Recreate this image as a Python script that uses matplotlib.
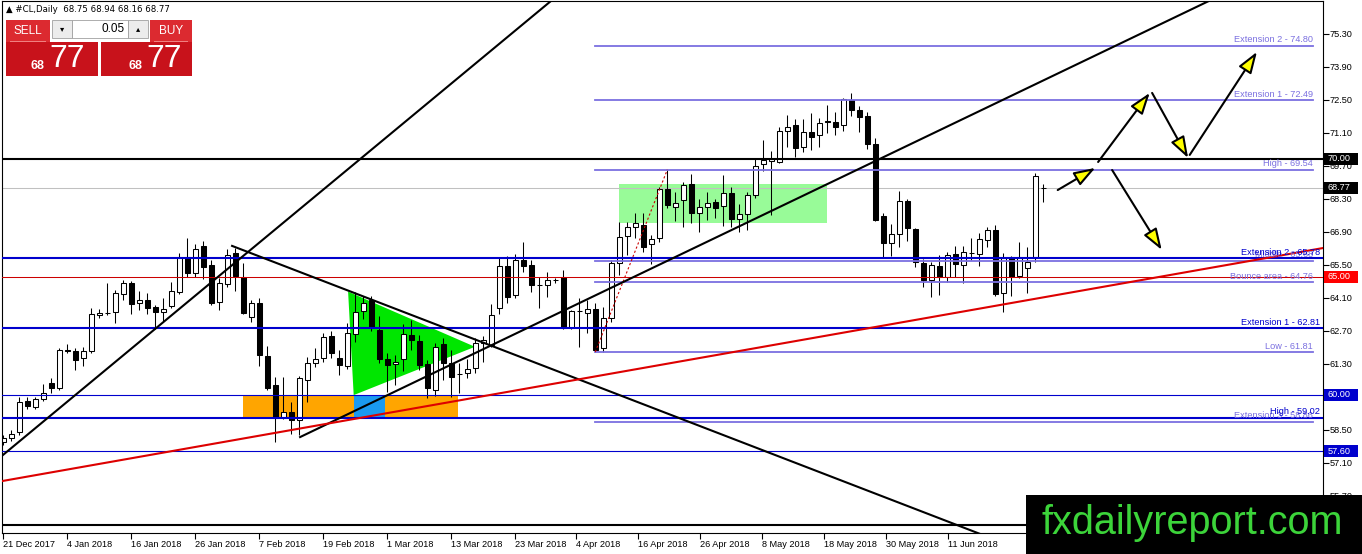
import numpy as np
import matplotlib.pyplot as plt
from matplotlib.patches import Rectangle, Polygon
from matplotlib.transforms import blended_transform_factory

plt.rcParams['font.family'] = ['Liberation Sans', 'DejaVu Sans']

W, H = 1362, 554

# #CL daily candles, bar index 0 = 21 Dec 2017
opens = [57.98, 58.16, 58.43, 59.73, 59.46, 59.81, 60.51, 60.30, 61.90, 61.85,
         61.54, 61.87, 63.37, 63.47, 63.52, 64.27, 64.75, 63.87, 64.01, 63.70,
         63.49, 63.76, 64.37, 65.83, 65.17, 66.31, 65.50, 63.94, 64.70, 66.00,
         65.00, 63.30, 63.87, 61.64, 60.41, 59.07, 59.28, 58.92, 60.62, 61.36,
         61.57, 62.49, 61.54, 61.21, 62.57, 63.56, 64.01, 62.74, 61.50, 61.28,
         61.50, 62.52, 62.28, 61.30, 60.20, 62.15, 61.36, 60.86, 60.90, 61.12,
         62.20, 62.11, 63.66, 65.46, 64.23, 65.71, 65.50, 64.65, 64.65, 64.86,
         64.98, 62.84, 63.55, 63.45, 63.63, 61.96, 63.24, 65.57, 66.71, 67.12,
         67.20, 66.38, 66.63, 68.71, 67.96, 68.26, 68.94, 67.69, 67.97, 68.16,
         68.00, 68.54, 67.44, 67.65, 68.47, 69.78, 69.92, 69.88, 71.20, 71.44,
         70.49, 71.16, 71.02, 71.60, 71.58, 71.44, 72.50, 72.08, 71.82, 70.63,
         67.58, 66.45, 66.80, 68.21, 67.01, 65.57, 64.86, 65.46, 65.00, 65.97,
         65.50, 66.02, 65.97, 66.56, 66.98, 64.33, 65.83, 65.03, 65.36, 65.85,
         68.75]
highs = [58.30, 58.50, 59.91, 59.91, 59.91, 60.45, 60.70, 61.96, 62.15, 61.96,
         62.00, 63.66, 63.62, 64.72, 64.44, 64.86, 64.80, 64.40, 64.30, 63.80,
         64.10, 64.79, 65.99, 66.63, 66.40, 66.50, 65.70, 64.95, 66.16, 66.22,
         65.60, 64.00, 64.10, 62.06, 60.76, 60.76, 59.70, 60.80, 61.60, 61.96,
         62.60, 62.70, 61.89, 63.03, 64.37, 64.20, 64.20, 63.33, 61.75, 61.70,
         63.00, 63.17, 62.53, 61.45, 62.20, 62.40, 61.90, 61.35, 61.50, 62.40,
         62.50, 63.85, 65.80, 65.90, 65.97, 66.49, 65.70, 65.00, 65.22, 64.95,
         65.30, 63.60, 64.10, 64.00, 63.90, 63.70, 65.70, 67.34, 67.34, 67.69,
         67.69, 66.77, 68.82, 69.54, 68.61, 69.03, 69.36, 68.30, 68.60, 68.30,
         69.32, 68.80, 68.10, 68.60, 69.98, 70.80, 70.35, 71.37, 71.86, 71.70,
         71.70, 71.94, 71.75, 72.29, 72.00, 72.57, 72.78, 72.25, 72.00, 70.90,
         67.70, 67.24, 68.65, 68.30, 67.05, 65.74, 65.64, 65.92, 66.06, 66.30,
         66.31, 66.63, 66.87, 67.10, 67.20, 66.00, 65.90, 66.49, 66.28, 69.39,
         68.94]
lows = [57.85, 58.05, 58.27, 59.37, 59.37, 59.75, 60.07, 60.20, 61.75, 61.04,
        61.20, 61.75, 63.24, 63.38, 63.03, 64.00, 63.40, 63.60, 63.42, 62.80,
        63.10, 63.66, 64.27, 65.00, 65.00, 64.90, 63.80, 63.60, 64.58, 64.40,
        63.40, 63.10, 61.20, 60.20, 58.00, 58.97, 58.31, 58.30, 59.70, 61.18,
        61.40, 61.56, 60.83, 61.07, 62.25, 63.20, 62.70, 61.33, 60.12, 60.40,
        61.00, 61.89, 61.04, 59.85, 59.95, 60.62, 59.90, 60.05, 60.70, 60.90,
        61.40, 62.03, 63.40, 63.90, 64.09, 65.22, 64.35, 63.66, 64.16, 64.75,
        62.80, 62.80, 62.00, 62.60, 61.81, 61.80, 63.10, 65.08, 65.92, 66.63,
        66.06, 65.54, 66.49, 67.90, 67.38, 67.10, 67.29, 66.90, 67.40, 67.50,
        67.15, 67.10, 66.90, 67.00, 68.33, 69.50, 67.62, 69.81, 70.52, 70.10,
        70.30, 70.38, 70.50, 71.10, 71.00, 71.20, 71.82, 71.16, 70.40, 67.35,
        65.78, 65.88, 66.28, 66.50, 65.43, 64.58, 64.16, 64.23, 64.79, 65.00,
        64.75, 65.71, 65.46, 66.25, 64.20, 63.52, 64.20, 64.93, 64.30, 65.64,
        68.16]
closes = [58.15, 58.33, 59.70, 59.53, 59.80, 60.05, 60.27, 61.89, 61.85, 61.47,
          61.85, 63.41, 63.45, 63.47, 64.30, 64.75, 63.84, 64.01, 63.66, 63.52,
          63.62, 64.40, 65.83, 65.17, 66.17, 65.43, 63.87, 64.72, 65.92, 65.03,
          63.45, 63.87, 61.68, 60.27, 59.00, 59.28, 58.92, 60.69, 61.35, 61.53,
          62.43, 61.75, 61.26, 62.60, 63.52, 63.90, 62.86, 61.50, 61.26, 61.39,
          62.56, 62.30, 61.26, 60.27, 62.03, 61.33, 60.76, 60.86, 61.10, 62.18,
          62.30, 63.38, 65.46, 64.16, 65.71, 65.46, 64.65, 64.65, 64.86, 64.86,
          62.84, 63.55, 63.55, 63.63, 61.89, 63.24, 65.57, 66.68, 67.10, 67.30,
          66.28, 66.59, 68.71, 68.05, 68.11, 68.90, 67.69, 67.95, 68.11, 67.93,
          68.54, 67.44, 67.65, 68.47, 69.70, 69.95, 69.98, 71.20, 71.34, 70.45,
          71.16, 70.94, 71.54, 71.55, 71.34, 72.53, 72.08, 71.79, 70.62, 67.41,
          66.45, 66.80, 68.21, 67.06, 65.64, 64.86, 65.50, 65.00, 65.92, 65.54,
          66.04, 66.02, 66.59, 66.98, 64.27, 65.78, 65.00, 65.85, 65.64, 69.28,
          68.77]

date_pos = [0, 8, 16, 24, 32, 40, 48, 56, 64, 71.6, 79.35, 87.1, 94.85, 102.6, 110.35, 118.1]
date_labels = ['21 Dec 2017', '4 Jan 2018', '16 Jan 2018', '26 Jan 2018', '7 Feb 2018',
               '19 Feb 2018', '1 Mar 2018', '13 Mar 2018', '23 Mar 2018', '4 Apr 2018',
               '16 Apr 2018', '26 Apr 2018', '8 May 2018', '18 May 2018', '30 May 2018',
               '11 Jun 2018']
price_ticks = [75.30, 73.90, 72.50, 71.10, 69.70, 68.30, 66.90, 65.50, 64.10,
               62.70, 61.30, 59.90, 58.50, 57.10, 55.70]
hidden_ticks = [59.90]  # covered by the 60.00 tag in the terminal

# horizontal levels drawn across the chart
blue_thick = [65.78, 62.81, 59.02]
blue_thick_names = ['Extension 2 - 65.78', 'Extension 1 - 62.81', 'High - 59.02']
blue_thin = [60.00, 57.60]
resistance = 70.00
support_red = 65.00
bid = 68.77
bottom_line = 54.47

# fibo levels (lavender), drawn from the swing low bar
fib_levels = [74.80, 72.49, 69.54, 65.68, 64.76, 61.81, 58.86]
fib_names = ['Extension 2 - 74.80', 'Extension 1 - 72.49', 'High - 69.54', 'Middle - 65.68',
             'Bounce area - 64.76', 'Low - 61.81', 'Extension 3 - 58.86']
fib_start, fib_end = 74, 163.7
fib_anchor = [(74, 61.81), (83, 69.54)]

# trend lines (bar, price)
left_rise = [(-0.04, 57.44), (68.1, 76.6)]
fall_line = [(28.6, 66.31), (120.8, 54.26)]
right_rise = [(37.1, 58.20), (150.2, 76.62)]
red_line = [(-0.04, 56.34), (164.96, 66.22)]

# shapes
orange_box = (30, 56.8, 59.02, 60.00)
blue_box = (43.8, 47.7, 59.02, 60.00)
green_box = (77, 103, 67.28, 68.94)
triangle = [(43.1, 64.37), (43.8, 59.98), (58.96, 62.03)]

# projection arrows
arrows = [(131.8, 68.68, 136.5, 69.62), (136.85, 69.87, 143.3, 72.80),
          (143.6, 72.80, 148.1, 70.04), (148.3, 70.17, 156.7, 74.54),
          (138.6, 69.53, 144.8, 66.14)]

BLUE = '#0000cd'
LAV = '#7b70e0'

fig = plt.figure(figsize=(W / 100, H / 100), dpi=100)
ax = fig.add_axes([2 / W, 21 / H, 1321 / W, 532 / H])
ax.set_xlim(-0.16, 164.96)
ax.set_ylim(54.13, 76.70)

# background objects
ax.add_patch(Rectangle((orange_box[0], orange_box[2]), orange_box[1] - orange_box[0],
                       orange_box[3] - orange_box[2], fc='#ffa500', ec='none', zorder=0.5))
ax.add_patch(Rectangle((blue_box[0], blue_box[2]), blue_box[1] - blue_box[0],
                       blue_box[3] - blue_box[2], fc='#1a9af0', ec='none', zorder=0.6))
ax.add_patch(Rectangle((green_box[0], green_box[2]), green_box[1] - green_box[0],
                       green_box[3] - green_box[2], fc='#98fb98', ec='none', zorder=0.5))
ax.add_patch(Polygon(triangle, closed=True, fc='#00e600', ec='none', zorder=0.5))

# candles
idx = np.arange(len(opens))
o = np.array(opens)
c = np.array(closes)
ax.vlines(idx, lows, highs, color='black', lw=0.75, zorder=2)
face = np.where(c >= o, 'white', 'black')
ax.bar(idx, np.abs(c - o), bottom=np.minimum(o, c), width=0.56, color=face,
       edgecolor='black', lw=0.75, zorder=2.1)

# horizontal lines
ax.axhline(bid, color='#c0c0c0', lw=0.75, zorder=1)
ax.axhline(support_red, color='#cc0000', lw=0.75, zorder=3)
for lv in blue_thin:
    ax.axhline(lv, color=BLUE, lw=0.8, zorder=3)
for lv in blue_thick:
    ax.axhline(lv, color=BLUE, lw=1.5, zorder=3)
ax.axhline(resistance, color='black', lw=1.5, zorder=3)
ax.axhline(bottom_line, color='black', lw=1.5, zorder=3)

# fibo
for lv, name in zip(fib_levels, fib_names):
    ax.plot([fib_start, fib_end], [lv, lv], color=LAV, lw=1.3, zorder=3)
    ax.text(fib_end, lv + 0.06, name, color=LAV, fontsize=6.6, ha='right', va='bottom',
            zorder=4)
for lv, name in zip(blue_thick, blue_thick_names):
    ax.text(164.6, lv + 0.06, name, color=BLUE, fontsize=6.6, ha='right', va='bottom',
            zorder=4)
ax.plot(*zip(*fib_anchor), color='#cc0000', lw=0.8, ls=(0, (2, 2)), zorder=3)


def ray(p0, p1, x_end=200):
    slope = (p1[1] - p0[1]) / (p1[0] - p0[0])
    return [p0[0], x_end], [p0[1], p0[1] + slope * (x_end - p0[0])]


ax.axline(left_rise[0], left_rise[1], color='black', lw=1.5, zorder=3)
ax.plot(*ray(*fall_line), color='black', lw=1.5, zorder=3)
ax.plot(*ray(*right_rise), color='black', lw=1.5, zorder=3)
ax.axline(red_line[0], red_line[1], color='#dd0000', lw=1.5, zorder=3)

for x0, y0, x1, y1 in arrows:
    ax.annotate('', xy=(x1, y1), xytext=(x0, y0),
                arrowprops=dict(arrowstyle='-|>,head_length=1.3,head_width=0.45',
                                fc='#ffff00', ec='black', lw=1.5,
                                shrinkA=0, shrinkB=0), zorder=5)

# axes styling
for s in ax.spines.values():
    s.set_linewidth(0.8)
ax.yaxis.tick_right()
ax.set_yticks(price_ticks)
ax.set_yticklabels(['' if p in hidden_ticks else f'{p:.2f}' for p in price_ticks])
ax.set_xticks(date_pos)
ax.set_xticklabels(date_labels)
for lab in ax.get_xticklabels():
    lab.set_ha('left')
ax.tick_params(axis='both', direction='out', length=4, width=0.8, labelsize=6.6, pad=1)

# price tags on the right axis
tr = blended_transform_factory(ax.transAxes, ax.transData)
tags = [(resistance, 'black'), (bid, 'black'), (support_red, '#ff0000'),
        (60.00, BLUE), (57.60, BLUE)]
for lv, col in tags:
    ax.add_patch(Rectangle((1.001, lv - 0.26), 34 / 1321, 0.52, transform=tr,
                           fc=col, ec='none', clip_on=False, zorder=6))
    ax.text(1.0035, lv, f'{lv:.2f}', transform=tr, color='white', fontsize=6.6,
            ha='left', va='center', clip_on=False, zorder=7)


# trade panel in the top-left corner (pixel coordinates)
def fig_rect(x, y, w, h, **kw):
    fig.patches.append(Rectangle((x / W, 1 - (y + h) / H), w / W, h / H,
                                 transform=fig.transFigure, **kw))


def fig_text(x, y, s, **kw):
    fig.text(x / W, 1 - y / H, s, **kw)


fig_text(6, 10, '\u25b2 #CL,Daily  68.75 68.94 68.16 68.77', fontsize=6.2, va='center',
         family=['DejaVu Sans'])
fig_rect(6, 20, 44, 22, fc='#dc2a30', ec='none')
fig_rect(150, 20, 42, 22, fc='#dc2a30', ec='none')
fig_rect(52, 20, 20, 18, fc='#ececec', ec='#a0a0a0', lw=0.6)
fig_rect(72, 20, 56, 18, fc='white', ec='#a0a0a0', lw=0.6)
fig_rect(128, 20, 20, 18, fc='#ececec', ec='#a0a0a0', lw=0.6)
fig_rect(6, 42, 92, 34, fc='#c8121b', ec='none')
fig_rect(101, 42, 91, 34, fc='#c8121b', ec='none')
fig_rect(10, 41, 36, 1, fc='#f08080', ec='none')
fig_rect(154, 41, 34, 1, fc='#f08080', ec='none')
fig_text(28, 31, 'SELL', color='white', fontsize=8.5, ha='center', va='center')
fig_text(171, 31, 'BUY', color='white', fontsize=8.5, ha='center', va='center')
fig_text(62, 29, '\u25be', fontsize=6, ha='center', va='center', family=['DejaVu Sans'])
fig_text(138, 29, '\u25b4', fontsize=6, ha='center', va='center', family=['DejaVu Sans'])
fig_text(125, 29, '0.05', fontsize=8.5, ha='right', va='center')
fig_text(44, 66, '68', color='white', fontsize=9, fontweight='bold', ha='right', va='center')
fig_text(49, 59, '77', color='white', fontsize=23, ha='left', va='center')
fig_text(142, 66, '68', color='white', fontsize=9, fontweight='bold', ha='right', va='center')
fig_text(146, 59, '77', color='white', fontsize=23, ha='left', va='center')

# site watermark
fig_rect(1026, 495, 336, 59, fc='black', ec='none', zorder=10)
fig_text(1042, 523, 'fxdailyreport.com', color='#3cd43a', fontsize=28.5, ha='left',
         va='center', zorder=11)

fig.savefig('out.png', dpi=100, facecolor='white')
